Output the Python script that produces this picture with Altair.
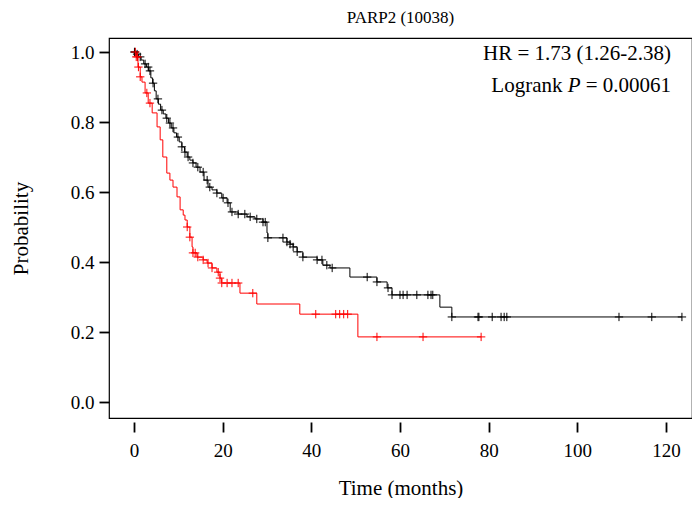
import altair as alt
import pandas as pd

# ---- data ----
black_t = [0, 0.5, 1.0, 1.6, 2.2, 2.8, 3.3, 3.8, 4.2, 4.6, 5.0, 5.5, 6.0, 6.6, 7.2, 7.8, 8.4,
           9.0, 9.6, 10.2, 10.8, 11.4, 12.0, 12.6, 13.3, 14.0, 14.9, 15.8, 16.7, 17.6, 18.7,
           19.8, 21.0, 21.7, 23.5, 25.5, 27.3, 29.1, 30.0, 30.2, 34.5, 35.2, 35.9, 36.8, 38.1,
           41.3, 42.6, 44.2, 48.7, 54.8, 57.1, 58.2, 69.0, 71.7, 123.6]
black_p = [1.0, 0.994, 0.986, 0.977, 0.966, 0.957, 0.946, 0.926, 0.911, 0.889, 0.866, 0.851,
           0.834, 0.823, 0.811, 0.797, 0.783, 0.769, 0.757, 0.743, 0.729, 0.714, 0.700, 0.691,
           0.683, 0.671, 0.657, 0.634, 0.614, 0.606, 0.597, 0.583, 0.569, 0.543, 0.537, 0.529,
           0.523, 0.514, 0.483, 0.469, 0.457, 0.451, 0.443, 0.429, 0.414, 0.406, 0.391, 0.383,
           0.357, 0.343, 0.326, 0.306, 0.271, 0.243, 0.243]

red_t = [0, 0.5, 0.9, 1.4, 1.8, 2.5, 3.2, 4.1, 5.2, 5.9, 6.5, 7.4, 8.1, 8.8, 9.7, 10.4, 11.1,
         11.5, 12.0, 12.6, 13.1, 13.3, 14.2, 15.6, 16.5, 17.6, 18.7, 19.4, 19.8, 23.9, 27.7,
         37.4, 50.5, 78.3]
red_p = [1.0, 0.986, 0.957, 0.929, 0.914, 0.883, 0.854, 0.826, 0.786, 0.749, 0.700, 0.654,
         0.634, 0.614, 0.586, 0.549, 0.534, 0.520, 0.500, 0.471, 0.443, 0.426, 0.414, 0.406,
         0.397, 0.383, 0.371, 0.354, 0.340, 0.311, 0.280, 0.251, 0.186, 0.186]

black_cens = [0.1, 0.2, 0.7, 1.4, 2.5, 3.2, 3.6, 4.3, 5.4, 6.3, 7.4, 8.1, 8.8, 9.9, 10.8, 11.5,
              12.2, 13.3, 14.4, 15.6, 16.5, 17.1, 18.7, 20.1, 21.2, 22.1, 23.5, 25.0, 26.2,
              27.7, 29.1, 29.6, 30.2, 33.6, 34.5, 35.2, 35.9, 36.8, 38.1, 41.3, 42.4, 43.5,
              44.7, 52.6, 54.8, 57.3, 58.2, 60.0, 60.7, 61.6, 63.8, 66.3, 67.0, 67.4, 71.7,
              77.6, 77.8, 80.8, 82.8, 83.5, 84.1, 109.4, 116.8, 123.6]
red_cens = [0.3, 0.5, 0.8, 1.0, 1.4, 2.9, 3.6, 12.0, 12.6, 13.3, 13.8, 14.4, 15.6, 16.7, 17.6,
            19.0, 19.4, 19.8, 21.0, 22.1, 23.5, 26.8, 41.0, 45.5, 46.4, 47.3, 48.2, 54.8,
            65.2, 78.3]

title_text = "PARP2 (10038)"
hr_text = "HR = 1.73 (1.26-2.38)"
x_ticks = [0, 20, 40, 60, 80, 100, 120]
y_ticks = [0.0, 0.2, 0.4, 0.6, 0.8, 1.0]


def km_value(ts, ps, t):
    v = ps[0]
    for kt, kp in zip(ts, ps):
        if kt <= t:
            v = kp
    return v


black_df = pd.DataFrame({"t": black_t, "p": black_p})
red_df = pd.DataFrame({"t": red_t, "p": red_p})
cens_black_df = pd.DataFrame({"t": black_cens, "p": [km_value(black_t, black_p, c) for c in black_cens]})
cens_red_df = pd.DataFrame({"t": red_cens, "p": [km_value(red_t, red_p, c) for c in red_cens]})

FONT = "Liberation Serif"
xs = alt.Scale(domain=[-5.64, 125.87], nice=False, zero=False)
ys = alt.Scale(domain=[-0.0457, 1.04], nice=False, zero=False)

X = alt.X("t:Q", scale=xs, axis=alt.Axis(values=x_ticks, title="Time (months)", format="d",
                                         offset=4, titlePadding=17, labelPadding=9))
Y = alt.Y("p:Q", scale=ys, axis=alt.Axis(values=y_ticks, title="Probability", format=".1f",
                                         titlePadding=39, labelPadding=5))

plus = "M-1,0L1,0M0,-1L0,1"

line_black = alt.Chart(black_df).mark_line(interpolate="step-after", color="black", strokeWidth=1).encode(x=X, y=Y)
line_red = alt.Chart(red_df).mark_line(interpolate="step-after", color="#ff0000", strokeWidth=1).encode(x=X, y=Y)
pts_black = alt.Chart(cens_black_df).mark_point(shape=plus, filled=False, size=70, strokeWidth=1,
                                                color="black", opacity=1).encode(x=X, y=Y)
pts_red = alt.Chart(cens_red_df).mark_point(shape=plus, filled=False, size=70, strokeWidth=1,
                                            color="#ff0000", opacity=1).encode(x=X, y=Y)

AFS = 21
hr = alt.Chart(pd.DataFrame({"s": [hr_text]})).mark_text(
    align="right", baseline="alphabetic", font=FONT, fontSize=AFS, color="black"
).encode(x=alt.value(562), y=alt.value(21.5), text="s:N")
lr1 = alt.Chart(pd.DataFrame({"s": ["Logrank"]})).mark_text(
    align="right", baseline="alphabetic", font=FONT, fontSize=AFS, color="black"
).encode(x=alt.value(453.5), y=alt.value(54), text="s:N")
lr2 = alt.Chart(pd.DataFrame({"s": ["P"]})).mark_text(
    align="right", baseline="alphabetic", font=FONT, fontSize=AFS, fontStyle="italic", color="black"
).encode(x=alt.value(471.5), y=alt.value(54), text="s:N")
lr3 = alt.Chart(pd.DataFrame({"s": ["= 0.00061"]})).mark_text(
    align="right", baseline="alphabetic", font=FONT, fontSize=AFS, color="black"
).encode(x=alt.value(562), y=alt.value(54), text="s:N")

chart = alt.layer(line_black, line_red, pts_black, pts_red, hr, lr1, lr2, lr3).properties(
    width=583, height=380,
    title=alt.TitleParams(title_text, font=FONT, fontSize=17, fontWeight="normal", color="black",
                          anchor="middle", offset=11),
    autosize=alt.AutoSizeParams(type="none"),
    padding={"left": 101, "top": 30, "right": 0, "bottom": 80},
).configure_view(stroke="black", strokeWidth=1.2).configure_axis(
    grid=False, domain=False, tickColor="black", tickSize=10, tickWidth=1.8,
    labelFont=FONT, labelFontSize=19, labelColor="black",
    titleFont=FONT, titleFontSize=21, titleFontWeight="normal", titleColor="black",
)

chart.save("out.html", embed_options={"renderer": "svg", "actions": False})
